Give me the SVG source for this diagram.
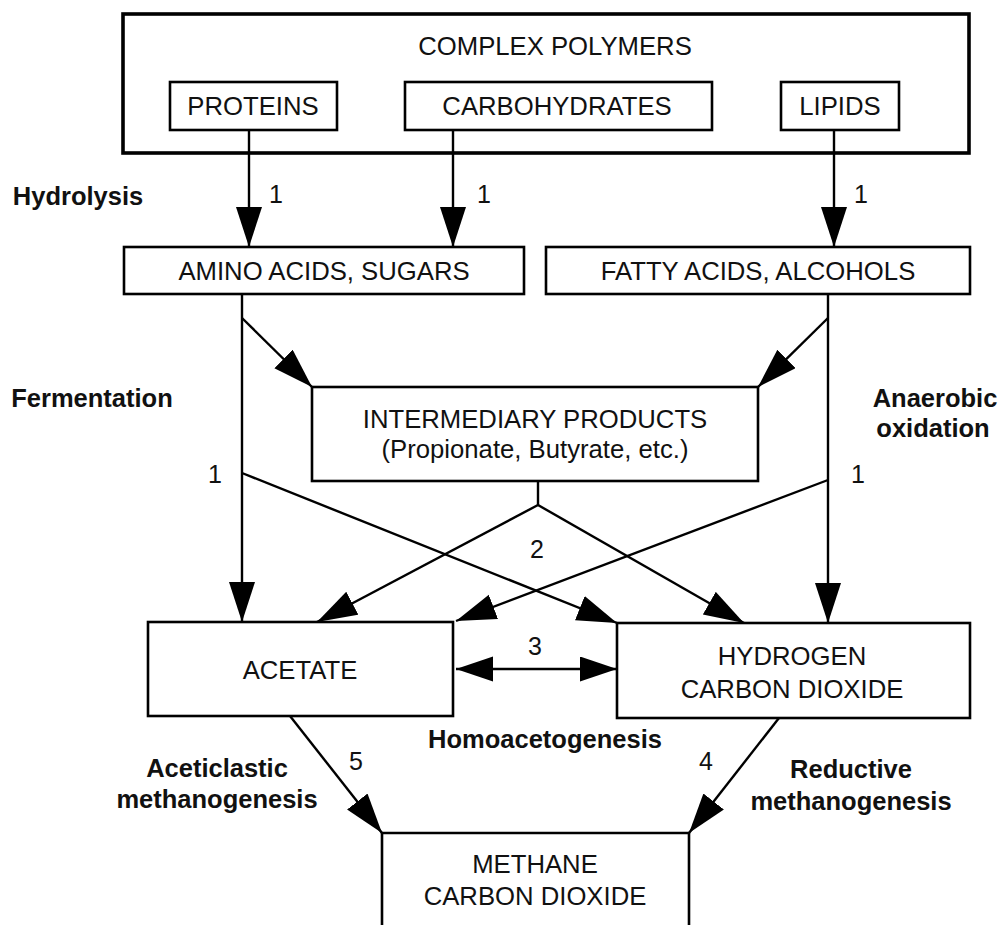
<svg xmlns="http://www.w3.org/2000/svg" width="999" height="925" viewBox="0 0 999 925">
  <style>
    .box { fill: #fff; stroke: #000; stroke-width: 2.6; }
    .outer { fill: #fff; stroke: #000; stroke-width: 3.6; }
    .t { font-family: "Liberation Sans", Arial, sans-serif; font-size: 25.7px; fill: #111; text-anchor: middle; }
    .b { font-family: "Liberation Sans", Arial, sans-serif; font-size: 25.5px; font-weight: bold; fill: #111; text-anchor: middle; }
    .n { font-family: "Liberation Sans", Arial, sans-serif; font-size: 25px; fill: #111; text-anchor: middle; }
    .c { fill: none; stroke: #000; stroke-width: 2.4; }
    .arr { marker-end: url(#head); }
  </style>
  <defs>
    <marker id="head" markerUnits="userSpaceOnUse" markerWidth="42" markerHeight="28" refX="40" refY="13" orient="auto">
      <path d="M0,0 L40,13 L0,26 z" fill="#000"/>
    </marker>
    <marker id="head2" markerUnits="userSpaceOnUse" markerWidth="40" markerHeight="28" refX="37" refY="12.5" orient="auto-start-reverse">
      <path d="M0,0 L37,12.5 L0,25 z" fill="#000"/>
    </marker>
  </defs>

  <rect width="999" height="925" fill="#fff"/>

  <!-- complex polymers container -->
  <g id="complex-polymers">
    <rect class="outer" x="123" y="14" width="846" height="139"/>
    <text class="t" x="555" y="55">COMPLEX POLYMERS</text>
  </g>
  <g id="proteins">
    <rect class="box" x="170" y="82" width="167" height="48"/>
    <text class="t" x="253" y="115">PROTEINS</text>
  </g>
  <g id="carbohydrates">
    <rect class="box" x="405" y="82" width="307" height="48"/>
    <text class="t" x="557" y="115">CARBOHYDRATES</text>
  </g>
  <g id="lipids">
    <rect class="box" x="781" y="82" width="118" height="48"/>
    <text class="t" x="840" y="115">LIPIDS</text>
  </g>

  <!-- monomers -->
  <g id="amino-acids-sugars">
    <rect class="box" x="124" y="247" width="400" height="47"/>
    <text class="t" x="324" y="280">AMINO ACIDS, SUGARS</text>
  </g>
  <g id="fatty-acids-alcohols">
    <rect class="box" x="546" y="247" width="424" height="47"/>
    <text class="t" x="758" y="280">FATTY ACIDS, ALCOHOLS</text>
  </g>

  <g id="intermediary-products">
    <rect class="box" x="312" y="387" width="446" height="94"/>
    <text class="t" x="535" y="428">INTERMEDIARY PRODUCTS</text>
    <text class="t" x="535" y="458">(Propionate, Butyrate, etc.)</text>
  </g>

  <g id="acetate">
    <rect class="box" x="148" y="622" width="305" height="94"/>
    <text class="t" x="300" y="679">ACETATE</text>
  </g>
  <g id="hydrogen-co2">
    <rect class="box" x="617" y="623" width="353" height="95"/>
    <text class="t" x="792" y="665">HYDROGEN</text>
    <text class="t" x="792" y="698">CARBON DIOXIDE</text>
  </g>

  <g id="methane-co2">
    <path class="box" d="M382,930 V833 H689 V930"/>
    <text class="t" x="535" y="873">METHANE</text>
    <text class="t" x="535" y="905">CARBON DIOXIDE</text>
  </g>

  <!-- connectors -->
  <g id="connectors">
    <!-- hydrolysis -->
    <line class="c arr" x1="249" y1="130" x2="249" y2="247"/>
    <line class="c arr" x1="453" y1="130" x2="453" y2="247"/>
    <line class="c arr" x1="834" y1="130" x2="834" y2="247"/>
    <!-- fermentation / anaerobic oxidation trunks -->
    <line class="c arr" x1="242" y1="294" x2="242" y2="622"/>
    <line class="c arr" x1="828" y1="294" x2="828" y2="623"/>
    <line class="c arr" x1="242" y1="318" x2="312" y2="387"/>
    <line class="c arr" x1="828" y1="318" x2="758" y2="387"/>
    <!-- cross routes -->
    <line class="c arr" x1="242" y1="473" x2="617" y2="623"/>
    <line class="c arr" x1="828" y1="480" x2="456" y2="621"/>
    <!-- from intermediary products -->
    <polyline class="c" points="538,481 538,505"/>
    <line class="c arr" x1="538" y1="505" x2="317" y2="622"/>
    <line class="c arr" x1="538" y1="505" x2="744" y2="623"/>
    <!-- homoacetogenesis -->
    <line class="c" x1="456" y1="669" x2="617" y2="669" stroke-width="3" marker-start="url(#head2)" marker-end="url(#head2)"/>
    <!-- methanogenesis -->
    <line class="c arr" x1="290" y1="716" x2="382" y2="833"/>
    <line class="c arr" x1="779" y1="718" x2="689" y2="833"/>
  </g>

  <!-- step numbers -->
  <g id="step-numbers">
    <text class="n" x="276" y="203">1</text>
    <text class="n" x="484" y="203">1</text>
    <text class="n" x="861" y="203">1</text>
    <text class="n" x="215" y="483">1</text>
    <text class="n" x="858" y="483">1</text>
    <text class="n" x="537" y="558">2</text>
    <text class="n" x="535" y="655">3</text>
    <text class="n" x="706" y="770">4</text>
    <text class="n" x="356" y="770">5</text>
  </g>

  <!-- process labels -->
  <g id="process-labels">
    <text class="b" x="78" y="205">Hydrolysis</text>
    <text class="b" x="92" y="407">Fermentation</text>
    <text class="b" x="935" y="407">Anaerobic</text>
    <text class="b" x="933" y="437">oxidation</text>
    <text class="b" x="545" y="748">Homoacetogenesis</text>
    <text class="b" x="217" y="777">Aceticlastic</text>
    <text class="b" x="217" y="808">methanogenesis</text>
    <text class="b" x="851" y="778">Reductive</text>
    <text class="b" x="851" y="810">methanogenesis</text>
  </g>
</svg>
